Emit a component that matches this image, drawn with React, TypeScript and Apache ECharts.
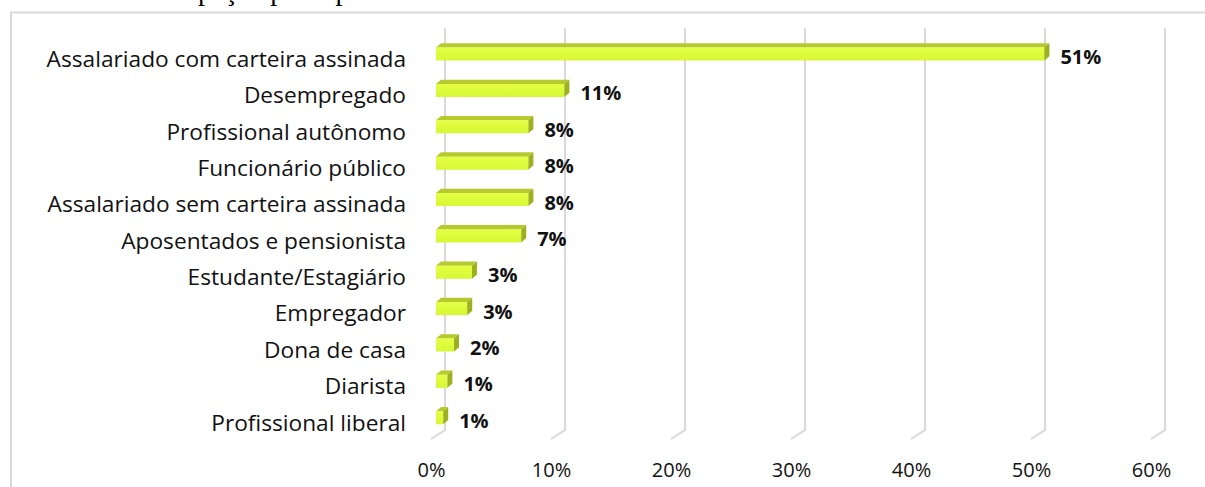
import React, { useEffect, useRef } from "react";
import * as echarts from "echarts";

const title = "Gráfico 3: Ocupação principal";
const categories = [
  "Assalariado com carteira assinada",
  "Desempregado",
  "Profissional autônomo",
  "Funcionário público",
  "Assalariado sem carteira assinada",
  "Aposentados e pensionista",
  "Estudante/Estagiário",
  "Empregador",
  "Dona de casa",
  "Diarista",
  "Profissional liberal",
];
const values = [50.7, 10.7, 7.7, 7.7, 7.7, 7.1, 3.0, 2.6, 1.5, 0.95, 0.6];
const tickValues = [0, 10, 20, 30, 40, 50, 60];

export default function App() {
  const ref = useRef<HTMLDivElement>(null);
  useEffect(() => {
    const chart = echarts.init(ref.current!, null, { renderer: "svg" });
    const frontFill = new echarts.graphic.LinearGradient(0, 0, 0, 1, [
      { offset: 0, color: "#E4FF44" },
      { offset: 1, color: "#D6F834" },
    ]);
    const option: any = {
      animation: false,
      grid: { left: 436, right: 49, top: 40.2, bottom: 46.8 },
      xAxis: {
        type: "value",
        min: 0,
        max: 60,
        interval: 10,
        axisLine: { show: false },
        axisTick: { show: false },
        splitLine: { show: false },
        axisLabel: {
          formatter: "{value}%",
          fontFamily: "Open Sans",
          fontSize: 20,
          color: "#111",
          margin: 19,
          padding: [0, 9, 0, 0],
        },
      },
      yAxis: {
        type: "category",
        data: categories,
        inverse: true,
        axisLine: { show: false },
        axisTick: { show: false },
        splitLine: { show: false },
        axisLabel: {
          fontFamily: "Open Sans",
          fontSize: 22.7,
          color: "#111",
          margin: 30,
        },
      },
      graphic: [
        {
          type: "text",
          x: 30,
          y: -10,
          style: {
            text: title,
            font: '28px "Liberation Serif"',
            fill: "#000",
            verticalAlign: "middle",
            align: "left",
          },
        },
        {
          type: "rect",
          shape: { x: 11, y: 12.5, width: 1400, height: 700 },
          style: { fill: "none", stroke: "#D9D9D9", lineWidth: 2 },
        },
      ],
      series: [
        {
          type: "custom",
          silent: true,
          clip: false,
          data: tickValues.map((v) => [v, 0]),
          encode: { x: 0, y: 1 },
          renderItem: (params: any, api: any) => {
            const p = api.coord([api.value(0), 0]);
            const cs = params.coordSys;
            const bx = p[0] + 9;
            const top = cs.y - 12.2;
            const bot = cs.y + cs.height - 10.2;
            return {
              type: "polyline",
              shape: {
                points: [
                  [bx, top],
                  [bx, bot],
                  [bx - 14, bot + 9],
                ],
              },
              style: { stroke: "#D9D9D9", lineWidth: 2, fill: "none" },
            };
          },
        },
        {
          type: "custom",
          clip: false,
          data: values.map((v, i) => [v, i]),
          encode: { x: 0, y: 1 },
          renderItem: (params: any, api: any) => {
            const v = api.value(0);
            const i = api.value(1);
            const p0 = api.coord([0, i]);
            const p1 = api.coord([v, i]);
            const x0 = p0[0];
            const x1 = p1[0];
            const yc = p1[1] - 4.3;
            const h = 13;
            const dx = 5;
            const dy = 4.3;
            const t = yc - h / 2;
            const b = yc + h / 2;
            return {
              type: "group",
              children: [
                {
                  type: "polygon",
                  shape: { points: [[x0, t], [x1, t], [x1 + dx, t - dy], [x0 + dx, t - dy]] },
                  style: { fill: "#B6CA2E" },
                },
                {
                  type: "rect",
                  shape: { x: x0, y: t, width: x1 - x0, height: h },
                  style: { fill: frontFill },
                },
                {
                  type: "polygon",
                  shape: { points: [[x1, t], [x1 + dx, t - dy], [x1 + dx, b - dy], [x1, b]] },
                  style: { fill: "#9DB020" },
                },
                {
                  type: "text",
                  style: {
                    text: Math.round(v) + "%",
                    x: x1 + 16,
                    y: p1[1] - 1.8,
                    fontFamily: "Open Sans",
                    fontWeight: "bold",
                    fontSize: 20,
                    fill: "#111",
                    align: "left",
                    verticalAlign: "middle",
                  },
                },
              ],
            };
          },
        },
      ],
    };
    chart.setOption(option);
    return () => chart.dispose();
  }, []);
  return (
    <div
      ref={ref}
      style={{ position: "absolute", left: 0, top: 0, width: 1205, height: 487 }}
    />
  );
}
